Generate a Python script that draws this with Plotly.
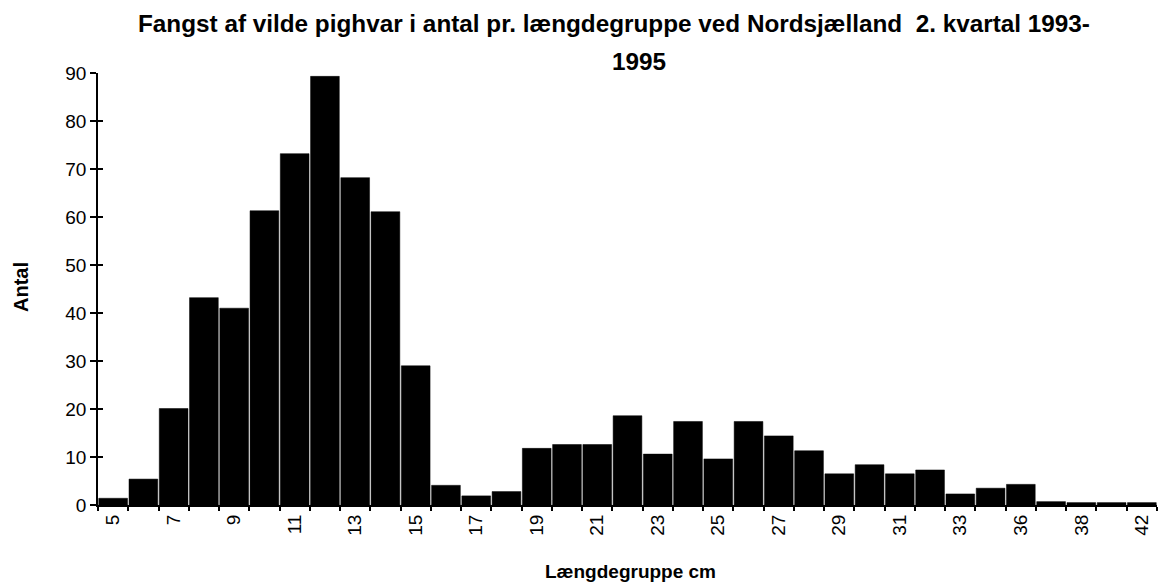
import plotly.graph_objects as go

categories = ["5", "6", "7", "8", "9", "10", "11", "12", "13", "14", "15", "16", "17", "18",
              "19", "20", "21", "22", "23", "24", "25", "26", "27", "28", "29", "30", "31",
              "32", "33", "35", "36", "37", "38", "40", "42"]
values = [1.4, 5.4, 20.1, 43.2, 41.0, 61.3, 73.2, 89.3, 68.2, 61.1, 29.0, 4.1, 1.9, 2.8,
          11.8, 12.6, 12.6, 18.6, 10.6, 17.4, 9.6, 17.4, 14.4, 11.3, 6.5, 8.4, 6.5,
          7.3, 2.3, 3.5, 4.3, 0.7, 0.5, 0.5, 0.5]
tick_labels = [c if i % 2 == 0 else "" for i, c in enumerate(categories)]
y_ticks = [0, 10, 20, 30, 40, 50, 60, 70, 80, 90]

title_line1 = "Fangst af vilde pighvar i antal pr. længdegruppe ved Nordsjælland  2. kvartal 1993-"
title_line2 = "1995"
x_title = "Længdegruppe cm"
y_title = "Antal"

FONT = "Liberation Sans, Arial, sans-serif"
W, H = 1159, 583
ML, MR, MT, MB = 98, 2, 73, 78
PW, PH = W - ML - MR, H - MT - MB


def px(xp):
    return (xp - ML) / PW


def py(yp):
    return (H - MB - yp) / PH


fig = go.Figure()
fig.add_trace(go.Bar(
    x=categories, y=values,
    marker=dict(color="black", line=dict(color="black", width=0.5)),
    hoverinfo="x+y",
))
# invisible helper trace for the inward half of crossing y ticks
fig.add_trace(go.Scatter(x=[categories[0]], y=[0], yaxis="y2", mode="markers",
                         marker=dict(opacity=0), hoverinfo="skip", showlegend=False))

fig.update_layout(
    width=W, height=H,
    margin=dict(l=ML, r=MR, t=MT, b=MB),
    paper_bgcolor="white", plot_bgcolor="white",
    showlegend=False,
    bargap=0.05,
    font=dict(family=FONT, color="black", size=19),
    xaxis=dict(
        type="category",
        tickmode="array", tickvals=categories, ticktext=tick_labels,
        tickangle=-90,
        tickson="boundaries",
        ticks="outside", ticklen=4, tickwidth=1.5, tickcolor="black",
        showline=True, linecolor="black", linewidth=2,
        showgrid=False, zeroline=False,
        tickfont=dict(size=19, family=FONT),
        range=[-0.5, len(categories) - 0.5],
    ),
    yaxis=dict(
        range=[0, 90],
        tickmode="array", tickvals=y_ticks,
        ticks="outside", ticklen=6, tickwidth=1.5, tickcolor="black",
        showline=True, linecolor="black", linewidth=1.5,
        showgrid=False, zeroline=False,
        tickfont=dict(size=19, family=FONT),
    ),
    yaxis2=dict(
        overlaying="y", side="left", range=[0, 90],
        tickmode="array", tickvals=y_ticks,
        ticks="inside", ticklen=5, tickwidth=1.5, tickcolor="black",
        showticklabels=False, showline=False, showgrid=False, zeroline=False,
    ),
    annotations=[
        dict(text="<b>" + title_line1 + "</b>", xref="paper", yref="paper",
             x=px(614), y=py(23), xanchor="center", yanchor="middle",
             showarrow=False, font=dict(size=24.3, family=FONT)),
        dict(text="<b>" + title_line2 + "</b>", xref="paper", yref="paper",
             x=px(639), y=py(61), xanchor="center", yanchor="middle",
             showarrow=False, font=dict(size=24.3, family=FONT)),
        dict(text="<b>" + x_title + "</b>", xref="paper", yref="paper",
             x=px(630), y=py(571), xanchor="center", yanchor="middle",
             borderpad=0, showarrow=False, font=dict(size=19, family=FONT)),
        dict(text="<b>" + y_title + "</b>", xref="paper", yref="paper",
             x=px(21), y=py(287), xanchor="center", yanchor="middle", textangle=-90,
             showarrow=False, font=dict(size=20, family=FONT)),
    ],
)

fig.write_html("out.html", config={"displayModeBar": False},
               post_script="document.body.style.margin='0px';")
